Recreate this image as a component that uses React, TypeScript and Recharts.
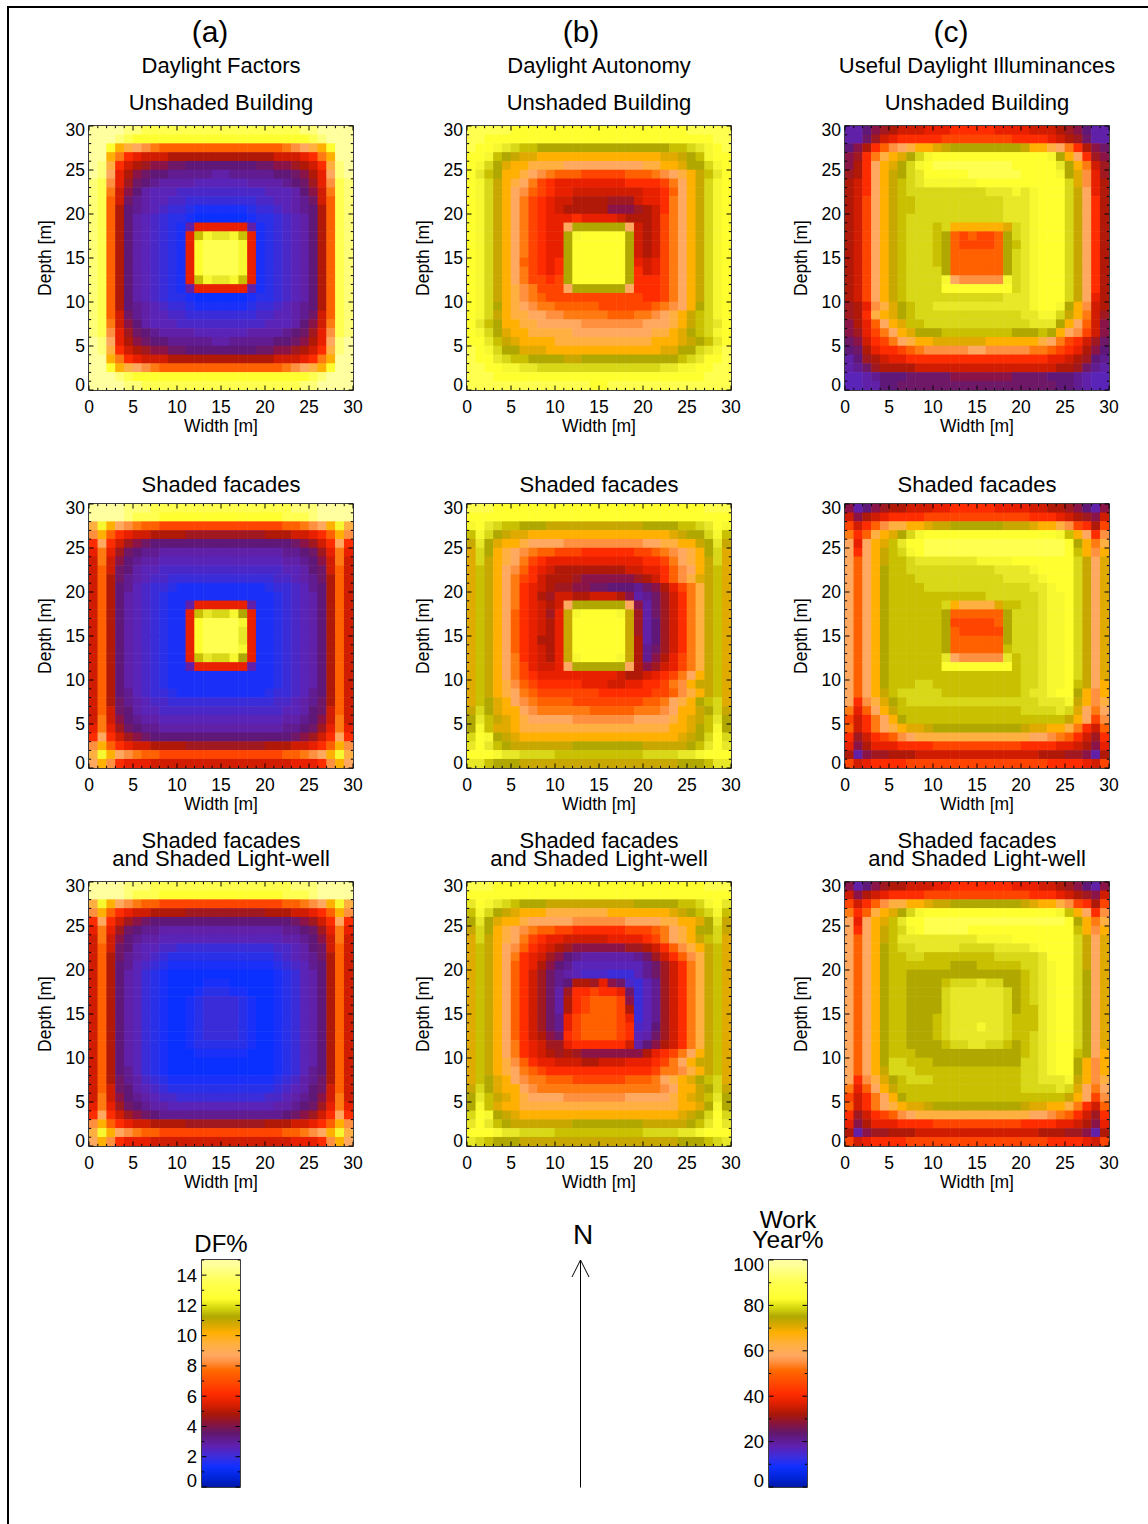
import React from 'react';
import { ScatterChart, Scatter, XAxis, YAxis, ReferenceLine, ReferenceArea, BarChart, Bar } from 'recharts';

// Level codes: each character of a row is one 1 m x 1 m cell, top row first.
const LEVEL_CODES = '0123456789abcdefghijklmnopqrstuvwxyz';
const LEVEL_COLORS = [
  '#0020c0', '#0028e0', '#0a30ff', '#1a30f8', '#2a30e8', '#3a2cd8', '#4a28c8', '#5a24b8', '#6020a8', '#601c90',
  '#601878', '#701868', '#8a1448', '#a01820', '#b01808', '#d01c00', '#e82000', '#ff2c00', '#ff4400', '#ff6000',
  '#ff7a10', '#ff9040', '#ffa860', '#ffb040', '#ffb000', '#e0aa00', '#c8a800', '#b0a800', '#c8c000', '#d8d818',
  '#e8e828', '#f8f830', '#ffff30', '#ffff50', '#ffff78', '#ffffa0',
];

const DF_UNSHADED = [
  'zzzzyyxxxx xxxxxxxxxx xxxxyyzzzz', 'zzzyxwwwww wwwwwwwwww wwwwwxyzzz', 'zzwonmlkjj jjjjjjjjjj jjklmnowzz',
  'zzokhgfffe eeeeeeeeee efffghkozz', 'zynhfedccb baaaaaaaab bccdefhnyz', 'zymgecbaa9 9999889999 9aabcegmyz',
  'yxlgdba988 8877777788 889abdglxy', 'yxkfca8777 6666666666 7778acfkxy', 'yxjfb98776 6555555556 67789bfjxy',
  'yxjea98765 5433333345 56789aejxy', 'yxjea87654 4322222234 45678aejxy', 'yxjea87654 38gggggg83 45678aejxy',
  'yxjea87654 3gsvuuvsg3 45678aejxy', 'yxjea87654 3gwxxxxvg3 45678aejxy', 'yxjea87654 3gwxxxxvg3 45678aejxy',
  'yxjea87654 3gwxxxxvg3 45678aejxy', 'yxjea87654 3gwxxxxvg3 45678aejxy', 'yxjea87654 3gsvuuvsg3 45678aejxy',
  'yxjea87654 38gggggg83 45678aejxy', 'yxjea87654 4322222234 45678aejxy', 'yxjea98765 5433333345 56789aejxy',
  'yxjfb98776 6555555556 67789bfjxy', 'yxkfca8777 6666666666 7778acfkxy', 'yxlgdba988 8877777788 889abdglxy',
  'zymgecbaa9 9999889999 9aabcegmyz', 'zynhfedccb baaaaaaaab bccdefhnyz', 'zzokhgfffe eeeeeeeeee efffghkozz',
  'zzwonmlkjj jjjjjjjjjj jjklmnowzz', 'zzzyxwwwww wwwwwwwwww wwwwwxyzzz', 'zzzzyyxxxx xxxxxxxxxx xxxxyyzzzz',
];
const DF_SHADED = [
  'zzzzyyyxxx xxxxxxxxxx xxxyyyzzzz', 'zzzzyxxxww wwwwwwwwww wwxxxyzzzz', 'nvomlkjjii iiiiiiiiii iijjklmovn',
  'lojhgffeee eddddddddd eeeffghjol', 'hmhfdcbaaa aaaaaaaaaa aaabcdfhmh', 'gkgdba9988 8888888888 8899abdgkg',
  'fkfca98877 7777777777 77889acfkf', 'fjfba87766 6666666666 66778abfjf', 'fjeb987665 5555555555 566789bejf',
  'fjea976554 3333333333 455679aejf', 'fjea876543 3333333333 345678aejf', 'fjea876543 38gggggg83 345678aejf',
  'fjea876543 3gsuttvrg3 345678aejf', 'fjea876543 3gwxxxxvg3 345678aejf', 'fjea876543 3gwxxxxug3 345678aejf',
  'fjea876543 3gwxxxxug3 345678aejf', 'fjea876543 3gwxxxxvg3 345678aejf', 'fjea876543 3gsuttvrg3 345678aejf',
  'fjea876543 38gggggg83 345678aejf', 'fjea876543 3333333333 345678aejf', 'fjea876543 3333333333 345678aejf',
  'fjea976554 3333333333 455679aejf', 'fjeb987665 5555555555 566789bejf', 'fjfba87766 6666666666 66778abfjf',
  'fkfca98877 7777777777 77889acfkf', 'gkgdba9988 8888888888 8899abdgkg', 'hmhfdcbaaa aaaaaaaaaa aaabcdfhmh',
  'lojhgffeee eddddddddd eeeffghjol', 'nvomlkjjii iiiiiiiiii iijjklmovn', 'molhgggfff ffffffffff fffggghlom',
];
const DF_SHADED_WELL = [
  'zzzzyyyxxx xxxxxxxxxx xxxyyyzzzz', 'zzzzyxxxww wwwwwwwwww wwxxxyzzzz', 'nvomlkjjii iiiiiiiiii iijjklmovn',
  'lojhgffeee eddddddddd eeeffghjol', 'hmhfdcbaaa aaaaaaaaaa aaabcdfhmh', 'gkgdba9988 8888888888 8899abdgkg',
  'fkfca98877 7777777777 77889acfkf', 'fjfba87766 5555555555 56678abfjf', 'fjeb987654 4444444444 456789bejf',
  'fjea976543 3333333333 345679aejf', 'fjea875432 2222222222 234578aejf', 'fjea875432 2223332222 234578aejf',
  'fjea875432 2234443322 234578aejf', 'fjea875432 2345555432 234578aejf', 'fjea875432 2345555432 234578aejf',
  'fjea875432 2345555432 234578aejf', 'fjea875432 2345555432 234578aejf', 'fjea875432 2345555432 234578aejf',
  'fjea875432 2344444432 234578aejf', 'fjea875432 2233333322 234578aejf', 'fjea875432 2222222222 234578aejf',
  'fjea975432 2222222222 234579aejf', 'fjeb986543 3333333333 345689bejf', 'fjfba87654 4444444444 45678abfjf',
  'fkfca98766 5555555555 66789acfkf', 'gkgdba9887 7777777777 7889abdgkg', 'hmhfdcba99 9999999999 99abcdfhmh',
  'lojhgffeee eddddddddd eeeffghjol', 'nvomlkjjii iiiiiiiiii iijjklmovn', 'molhgggfff ffffffffff fffggghlom',
];
const DA_UNSHADED = [
  'xxxxxwwwww wwwwwwwwww wwwwwxxxxx', 'xxwwwwwwww wwwwwwwwww wwwwwwwwxx', 'xwwvutssrr rrrrrrrrrr rrrsstuvwx',
  'wwvsrqppoo oooooooooo ooppqrsvww', 'wvtrpoonnn nmmmmmmmmm nnooprrtvw', 'wusroonmlk jjjiiiiijj jklmnoqsuw',
  'wvtqonmkih gggggggghh hhikmoqtvw', 'wvtqomljih ggffffffff gghjmoqtvw', 'wvtqomkihg ffeeeedddf gghkmoqtvw',
  'wvtqomkihg feeeeecccd efhkmoqtvw', 'wvtqomkihg gghggggfee efikmoqtvw', 'wvtqomkihg gmrrrrrrmf efikmoqtvw',
  'wvtqomkihg grvwwwwwrf efikmoqtvw', 'wvtqomkihg grwwwwwwrf efikmoqtvw', 'wvtqomkihg grwwwwwwrf efikmoqtvw',
  'wvtqomjihg hrwwwwwwrg fgikmoqtvw', 'wvtqomkihg hrwwwwwwrh fgikmoqtvw', 'wvtqomkiih irwwwwwwrh hhikmoqtvw',
  'wvtqonlkii imrrrrrrmh hhikmoqtvw', 'wvtqonlkji iiiiiiiiii hhikmoqtvw', 'wvtronmlkk jjjjjiiiii ijklmortvw',
  'wvtqonnmml lkkkkkjjjk klmnoqstvw', 'wusroonnmm mmmlllllll mmmnoqstuw', 'wvtrpoonnn nnmmmmmmmm mnnoprstvw',
  'wwusqpoooo nnnnnnnnnn nooopqrsuw', 'xwvtrrpppo oooooooooo oopprrtuvx', 'xwwutssrrr rqqrrrrrrr rrrrstuwwx',
  'xxwwvvuutt tttttttttt ttuuvvwwxx', 'xxxwwwwwww wwwwwwwwww wwwwwwwxxx', 'xxxxxxxxxx xxxxwwxxxx xxxxxxxxxx',
];
const DA_SHADED = [
  'xxxwwwwwww wwwwwwwwww wwwwwwwxxx', 'wwwwwwwwww wwwwwwwwww wwwwwwwwww', 'vwutssrrrq qqqqqqqqqq rrrrsstuwv',
  'svtrqppooo oooooooooo ooopqrrtvs', 'qurpoonmmm mlllllllll mmnnooqruq', 'ptronmlkjj iiihhhhhhi ijklmnortp',
  'ptqonmkihg gggggggggg hhikmnoqtp', 'psqomljhgf eeeeeeeeff gghjlmoqsp', 'psqomkihfe eedccccccd efhjlnpqsp',
  'psqomkhgfe ddccbbaaa9 bcegiknqsp', 'psqomkhged ffeefffec8 9bdfhknqsp', 'psqomkhgfe fmrrrrrrmc 8bdfhknqsp',
  'psqomjhgfd gqvwwwwvqd 8bdfhknqsp', 'psqomjhgfe gqwwwwwwqd 8adfhknqsp', 'psqomjhgfe gqwwwwwwqd 8adfhknqsp',
  'psqomjhgee gqwwwwwwqe 8adfhknqsp', 'psqomjhgfe gqwwwwwwqe 9bdfhknqsp', 'psqomkhgfe gqvwwwwvqe 9cegiknqsp',
  'psqomkigff gmrrrrrrme cdfgiknqsp', 'psqomkihgg gggggggfee fghikmoqsp', 'psqonljihh hhhgggffgg hhikloqqsp',
  'psqonmkjii iiiiihhhhh hiijlnoqsp', 'psrpomlkjj jjiiiiiiii jjkmnorstp', 'qtrpoomlkk kkkkjjjjjk kklmooqrtq',
  'rusqponmmm mmlllllllm mmmnopqsur', 'rvspponnnn nnnnnnnnnn nnnooprsvr', 'twvrqpoooo oooooooooo oooopqrtwt',
  'uwusrqqqqq qqrrrrrrrr qqqqqrsuwu', 'wwwvuutttt ssssssssss ttttuuvwww', 'uusrrrqqqq qqqqqqqqqq qqqqrrrsuu',
];
const DA_SHADED_WELL = [
  'xxxwwwwwww wwwwwwwwww wwwwwwwxxx', 'wwwwwwwwww wwwwwwwwww wwwwwwwwww', 'uwvutsrrrq qqqqqqqqqr rrrrsstvwu',
  'svtrqpooon nnnnnnoooo ooopqrstvs', 'rurpoonmmm mmllllllmm mmnnoopruq', 'qtronmlkjj iihhhhhhii ijkmnorrtq',
  'ptqonmkihg gfffffgggg hikmnoqstp', 'psqomljhgf edccccccdd efhjlnoqsp', 'psqomkhgfd ca98888889 bdfhjlnqsp',
  'psqomjhgec a977777777 9bdfhknqsp', 'psqomjhfdb 9876665557 9bdfhknqsp', 'psqomjhfdb 9aeedgcb65 79dfhknqsp',
  'psqomjhfdb 8dhhihhgb5 79dfhknqsp', 'psqomjhfdb 8ehijjjic5 79dfhknqsp', 'psqomjhfdb 8ehijjjie5 79dfhknqsp',
  'psqomjhfdb 9gijjjjig5 79dfhknqsp', 'psqomjhfdb 9gijjjjih6 7adfhknqsp', 'psqomjhfec bhijjjjih7 8bdfhknqsp',
  'psqomkhgfd dghhhhhhf8 acefhknqsp', 'psqomkhgfe dedccccccc eghikmoqsp', 'psqonljhgg fffeefffgg ghikmoqqsp',
  'psqonmkjih hhhhhhhhhh hikklnoqsp', 'psrpomlkkj jjiiiiiijj jkmnoprstp', 'qtrpoomlkk kkkkkkkkkk kklmooqrtq',
  'rusqponmmm mlllllllmm mmmnopqsur', 'rvspoonnnn nnnnnnnnnn nnnnooprvr', 'twvrqpoooo oooooooooo oooopqrtwt',
  'uwusrqqqqq qqrrrrrrrr qqqqqrsuwu', 'wwwvuutttt ssssssssss ttttuuvwww', 'utsrrrqqqq qqqqqqqqqq qqqqrrrstu',
];
const UDI_UNSHADED = [
  '88acdefffg gghhhhhggg gfffedca88', '88bdfghhhh hiiiiiiiih hhhgfedb88', 'acehjlmnoo pqrrrrrrrr qoonmkhecb',
  'cdhknoprtv wwwwwwwwww wwwvromhdc', 'cehmoprtvw xxxxxxxxxw wwwwurokfd', 'dehmoqrtuw wwwwxxxxxx wwwwvrplgd',
  'efhmoqstuv vvvvvwwwww wwwwwtplge', 'efhmoqsttt ttttttuuuv uvwwwtqmge', 'efimoqsstt ttttttttuu uvwwwtqmhe',
  'efimoqsstt ttttttttuu uvwwwtqmhe', 'efimoqsttt ttttttttuu uvwwwtqmhe', 'efimoqsttt stoooooopt uvwwwtqmhe',
  'efimoqsttt srjijiijrt uvwwwtqmhe', 'efimoqsttt srjiiiijrs uvwwwtqmhe', 'efimoqsttt srjjjjjjrt uvwwwtqmhe',
  'efimoqsttt srjjjjjjrt uvwwwtqmhe', 'efimoqsttt trjjjjjjrt uvwwwtqmhe', 'efimoqsttt tvmlllllvt uvwwwtqmhe',
  'efimoqsttt twwwwwwwwt uvwwwtqmhe', 'efimoqsttt ttttttttuu uvwwwtqmge', 'deglnprstt uuuuuuuuuu uvwwvrolfe',
  'dehnoprstt tttttttttt uuvvtqokfd', 'cegjmopsst tttttttttt tuuuromjfc', 'cdgikmoprr rssssssssr rrsromlifc',
  'bcfhikmnoo ppppppoooo oonmkihfdb', 'abeghhijkl llllmmllll lkkjihgeca', '8adefgghhh hhhhhhhhhh hhhggfeda9',
  '89bdeeeeff ffffffffff ffffeedb98', '7789aaabbb bbcccccccb bbbaaa9877', '7788aabbbb bbbbbbbbbb bbbbaa9877',
];
const UDI_SHADED = [
  'c8acdeefff gghhhhhggg gffeedca8c', 'fcefghhhhi iiiiiiiiii ihhhgfedcf', 'ifhjlnnoop qqrrrrrrqq qpoonlihei',
  'khjnoprtvw wwwwwwwwww wwwwvsomhl', 'mgmopsuwwx xxxxxxxxxx xxxxxwrokn', 'mhmoqstvwx xxxxxxxxxx xxxxxwsolo',
  'mjmoqsstuu uuuuuvvvvw wwwwwwtqmp', 'mjmorssttt tttttttuuu uvwwwwtqmp', 'mjmorssstt ttttttttuu uuvwwwtqmp',
  'mjmorsssst tttttttttt tuuvwwtqmp', 'mjmorsssss sssssstttt ttuvvwtqmp', 'mjmorsssss stonnnnpss ttuvvwtqmp',
  'mjmorsssss srjjjjjjrt ttuvvwtqmp', 'mjmorsssss sriiiiijrt ttuvvwtqmp', 'mjmorsssss srjiiiiirt ttuvvwtqmp',
  'mjmorsssss srjjjjjjrt ttuvvwtqmp', 'mjmorsssss srjjjjjjst ttuvvwtqmp', 'mjmorsssss sumlllllus ttuvvwtqmp',
  'mjmorsssss swwwwwwwws ttuvvwtqmp', 'mjmorsssss ssssssssss ttuvvwtqmp', 'mjmorssstt ssssssssss ttuvvwsqmo',
  'mjmoqstttt tsssssssss tuuvwwrolo', 'mhlnprsttt tttttttttt ttuuuvqoln', 'kgjmoqssss ssssssssss ttttutpmkm',
  'ifhkmorsss ssssssssss sssssqomil', 'jfhkmnoppq rrrrrrrrrr qppoonkhfj', 'hdfhijlmnn nnnnnnnnnn nmmlkjhfdh',
  'gceggghhhh iiiiiiiiii hhhhggfecg', 'e8cddeeeff ffffffffff ffeeeddc8e', 'ifghhhhiii iiiiiiiiii iiihhhhgfi',
];
const UDI_SHADED_WELL = [
  'c8acdeefff gghhhhhhhg ggffedca8c', 'fcefghhhhi iiiiiiiiii ihhhgfedcf', 'ifhjlnnoop qqrrrrrrrr qpoonlihei',
  'khjnoprtvw wwwwwwwwww wwwwvsomhl', 'mgmopsuwwx xxxxxxxxxx xxxxxwrokn', 'mhmoqstvwx xxxxwwwwww wwwwwwsolo',
  'mjmoqsuuuu uuuuuvvvvw wwwwwwtqmp', 'mjmorsttuu uuuttttuuu uvwwwwtqmp', 'mjmorsstts sssssssttt ttuwwwtqmp',
  'mjmorsssss ssrrrsssss ttuvwwtqmp', 'mjmorssrrr rrrrrrrrrr stuvwwtrmp', 'mjmorssrrr rstttuttrr stuvwwtrmp',
  'mjmorssrrr rtuuuuuutr stuvwwtrmp', 'mjmorssrrr rtuuuuuutr stuvwwtrmp', 'mjmorssrrr rtuuuuuutr ssuvwwtrmp',
  'mjmorssrrr stuuuuuuts ssuvwwtrmp', 'mjmorssrrr stuuuvuuts ssuvwwtrmp', 'mjmorssrrr stuuuuuuts stuvwwtrmp',
  'mjmorssrrr rsttuuttsr stuvwwtrmp', 'mjmorsssrr rrrrrrrrrr stuvwwsrmo', 'mjmorttsss rrrrrrrrrr ttuvwwrolo',
  'mjmoqtttss ssssssssss ttuvwwrolo', 'mhlnprsttt ssssssssss ttuuuvqoln', 'kgjmoqssss ssssssssss ttttutpmkm',
  'ifhkmorsss ssssssssss sssssqomil', 'jfhkmnoppq rrrrrrrrrr qppoonkhfj', 'hdfhijlmnn nnnnnnnnnn nmmlkjhfdh',
  'gceggghhhh iiiiiiiiii hhhhggfecg', 'e8cddeeeff ffffffffff ffeeeddc8e', 'ifghhhhiii iiiiiiiiii iiihhhhgfi',
];

const AXIS_TICKS = Array.from({ length: 31 }, (_, i) => i);
const DF_TICKS = Array.from({ length: 16 }, (_, i) => i);
const WORK_TICKS = [0, 10, 20, 30, 40, 50, 60, 70, 80, 90, 100];
const BAR_STOPS: [number, string][] = [
  [0, '#0018a8'], [0.04, '#0024d8'], [0.09, '#1030ff'], [0.13, '#3a2ee0'], [0.18, '#6020b0'], [0.235, '#601870'],
  [0.28, '#88143c'], [0.32, '#a81808'], [0.37, '#e02000'], [0.41, '#ff2c00'], [0.47, '#ff5000'], [0.515, '#ff6a00'],
  [0.55, '#ff9040'], [0.58, '#ffa860'], [0.63, '#ffb040'], [0.68, '#ffb000'], [0.72, '#d0a800'], [0.75, '#b0a800'],
  [0.79, '#d8d810'], [0.83, '#ffff30'], [0.9, '#ffff50'], [0.985, '#ffffa0'], [1, '#ffffa0'],
];

const FONT = '"Liberation Sans", Arial, sans-serif';
const PLOT = 264;
const COLS = [89, 467, 845];
const ROWS = [126, 504, 882];
const TICK_FS = 17.5;

function cells(rows: string[]) {
  const out: { x: number; y: number; code: string }[] = [];
  rows.forEach((row, r) => {
    row.replace(/ /g, '').split('').forEach((code, c) => {
      out.push({ x: c + 0.5, y: 29 - r + 0.5, code });
    });
  });
  return out;
}

const Cell = (p: any) => {
  const half = 4.65;
  const code = p.payload?.code ?? p.code;
  return <rect x={p.cx - half} y={p.cy - half} width={half * 2} height={half * 2} fill={LEVEL_COLORS[LEVEL_CODES.indexOf(code)]} />;
};

const XTick = (p: any) => {
  const v = p.payload.value;
  const major = v % 5 === 0;
  const len = major ? 4.5 : 2.2;
  return (
    <g>
      <line x1={p.x} x2={p.x} y1={p.y} y2={p.y - len} stroke="#000" strokeWidth={1} />
      <line x1={p.x} x2={p.x} y1={p.y - PLOT} y2={p.y - PLOT + len} stroke="#000" strokeWidth={1} />
      {major && (
        <text x={p.x} y={p.y + 23} textAnchor="middle" fontSize={TICK_FS} fontFamily={FONT} fill="#000">{v}</text>
      )}
    </g>
  );
};

const YTick = (p: any) => {
  const v = p.payload.value;
  const major = v % 5 === 0;
  const len = major ? 4.5 : 2.2;
  const shift = v === 0 ? -5 : v === 30 ? 4 : 0;
  return (
    <g>
      <line x1={p.x} x2={p.x + len} y1={p.y} y2={p.y} stroke="#000" strokeWidth={1} />
      <line x1={p.x + PLOT} x2={p.x + PLOT - len} y1={p.y} y2={p.y} stroke="#000" strokeWidth={1} />
      {major && (
        <text x={p.x - 4} y={p.y + shift + 6} textAnchor="end" fontSize={TICK_FS} fontFamily={FONT} fill="#000">{v}</text>
      )}
    </g>
  );
};

function Panel({ rows, col, row }: { rows: string[]; col: number; row: number }) {
  const data = cells(rows);
  return (
    <div style={{ position: 'absolute', left: COLS[col] - 60, top: ROWS[row] - 20 }}>
      <ScatterChart width={PLOT + 80} height={PLOT + 70} margin={{ top: 20, right: 20, left: 0, bottom: 0 }}>
        <XAxis
          type="number" dataKey="x" domain={[0, 30]} ticks={AXIS_TICKS} interval={0} height={50}
          tick={<XTick />} tickLine={false} axisLine={false} tickSize={0} tickMargin={0} allowDataOverflow
          label={{ value: 'Width [m]', position: 'center', dy: 11, fontSize: TICK_FS, fontFamily: FONT, fill: '#000' }}
        />
        <YAxis
          type="number" dataKey="y" domain={[0, 30]} ticks={AXIS_TICKS} interval={0} width={60}
          tick={<YTick />} tickLine={false} axisLine={false} tickSize={0} tickMargin={0} allowDataOverflow
          label={{ value: 'Depth [m]', position: 'center', angle: -90, dx: -14, fontSize: TICK_FS, fontFamily: FONT, fill: '#000' }}
        />
        <Scatter data={data} shape={<Cell />} isAnimationActive={false} />
        <ReferenceLine
          segment={[{ x: 1, y: 15 }, { x: 30, y: 15 }]}
          stroke="#000" strokeWidth={1} strokeDasharray="3.5 5"
        />
        <ReferenceArea x1={0} x2={30} y1={0} y2={30} fill="none" fillOpacity={0} stroke="#000" strokeWidth={1.5} />
      </ScatterChart>
    </div>
  );
}

function ColorBar({ id, left, domainMax, ticks, labelEvery }: { id: string; left: number; domainMax: number; ticks: number[]; labelEvery: number }) {
  const H = 227;
  const W = 38;
  const BarTick = (p: any) => {
    const v = p.payload.value;
    const major = v % labelEvery === 0;
    const len = major ? 4.5 : 2.2;
    const shift = v === 0 ? -7 : v === 100 ? 4 : 0;
    return (
      <g>
        <line x1={p.x} x2={p.x + len} y1={p.y} y2={p.y} stroke="#000" strokeWidth={1} />
        <line x1={p.x + W} x2={p.x + W - len} y1={p.y} y2={p.y} stroke="#000" strokeWidth={1} />
        {major && (
          <text x={p.x - 5} y={p.y + shift + 6.5} textAnchor="end" fontSize={18.5} fontFamily={FONT} fill="#000">{v}</text>
        )}
      </g>
    );
  };
  return (
    <div style={{ position: 'absolute', left: left - 60, top: 1250 }}>
      <BarChart
        width={W + 70} height={H + 20} data={[{ name: id, value: domainMax }]}
        margin={{ top: 10, right: 10, left: 0, bottom: 10 }} barCategoryGap={0} barGap={0}
      >
        <defs>
          <linearGradient id={id} x1="0" y1="1" x2="0" y2="0">
            {BAR_STOPS.map(([o, c]) => <stop key={o} offset={o} stopColor={c} />)}
          </linearGradient>
        </defs>
        <XAxis dataKey="name" hide />
        <YAxis
          type="number" domain={[0, domainMax]} ticks={ticks} interval={0} width={60}
          tick={<BarTick />} tickLine={false} axisLine={false} tickSize={0} tickMargin={0}
        />
        <Bar dataKey="value" fill={`url(#${id})`} isAnimationActive={false} />
        <ReferenceArea y1={0} y2={domainMax} fill="none" fillOpacity={0} stroke="#000" strokeWidth={1.5} />
      </BarChart>
    </div>
  );
}

const Txt = ({ x, y, size, children }: { x: number; y: number; size: number; children: React.ReactNode }) => (
  <div style={{
    position: 'absolute', left: x, top: y, transform: 'translate(-50%, -50%)', fontSize: size, lineHeight: 1,
    whiteSpace: 'nowrap', fontFamily: FONT, color: '#000',
  }}>{children}</div>
);

const COLUMN_TAGS = ['(a)', '(b)', '(c)'];
const COLUMN_TAG_X = [210, 581, 951];
const COLUMN_NAMES = ['Daylight Factors', 'Daylight Autonomy', 'Useful Daylight Illuminances'];
const COLUMN_CENTER_X = [221, 599, 977];

export default function App() {
  return (
    <div style={{ position: 'absolute', left: 0, top: 0, width: 1148, height: 1524, overflow: 'hidden', background: '#fff' }}>
      <style>{'.recharts-scatter { filter: blur(0.7px); }'}</style>
      <div style={{ position: 'absolute', left: 7, top: 5.5, width: 1300, height: 1700, borderTop: '2.5px solid #000', borderLeft: '2.5px solid #000' }} />
      {COLUMN_TAGS.map((t, i) => <Txt key={t} x={COLUMN_TAG_X[i]} y={32} size={30}>{t}</Txt>)}
      {COLUMN_NAMES.map((t, i) => <Txt key={t} x={COLUMN_CENTER_X[i]} y={66} size={22}>{t}</Txt>)}
      {COLUMN_CENTER_X.map((x) => (
        <React.Fragment key={x}>
          <Txt x={x} y={103} size={22}>Unshaded Building</Txt>
          <Txt x={x} y={485} size={22}>Shaded facades</Txt>
          <Txt x={x} y={841} size={22}>Shaded facades</Txt>
          <Txt x={x} y={859} size={22}>and Shaded Light-well</Txt>
        </React.Fragment>
      ))}
      <Panel rows={DF_UNSHADED} col={0} row={0} />
      <Panel rows={DA_UNSHADED} col={1} row={0} />
      <Panel rows={UDI_UNSHADED} col={2} row={0} />
      <Panel rows={DF_SHADED} col={0} row={1} />
      <Panel rows={DA_SHADED} col={1} row={1} />
      <Panel rows={UDI_SHADED} col={2} row={1} />
      <Panel rows={DF_SHADED_WELL} col={0} row={2} />
      <Panel rows={DA_SHADED_WELL} col={1} row={2} />
      <Panel rows={UDI_SHADED_WELL} col={2} row={2} />
      <Txt x={221} y={1243.5} size={24}>DF%</Txt>
      <ColorBar id="dfGrad" left={202} domainMax={15} ticks={DF_TICKS} labelEvery={2} />
      <Txt x={788} y={1219.5} size={24.5}>Work</Txt>
      <Txt x={788} y={1239.5} size={24.5}>Year%</Txt>
      <ColorBar id="workGrad" left={769} domainMax={100} ticks={WORK_TICKS} labelEvery={20} />
      <Txt x={583} y={1235} size={28}>N</Txt>
      <svg style={{ position: 'absolute', left: 560, top: 1250 }} width={40} height={250}>
        <path d="M20.5 237.5 V10 M12 27 L20.5 10 L29 27" fill="none" stroke="#000" strokeWidth={1} />
      </svg>
    </div>
  );
}
